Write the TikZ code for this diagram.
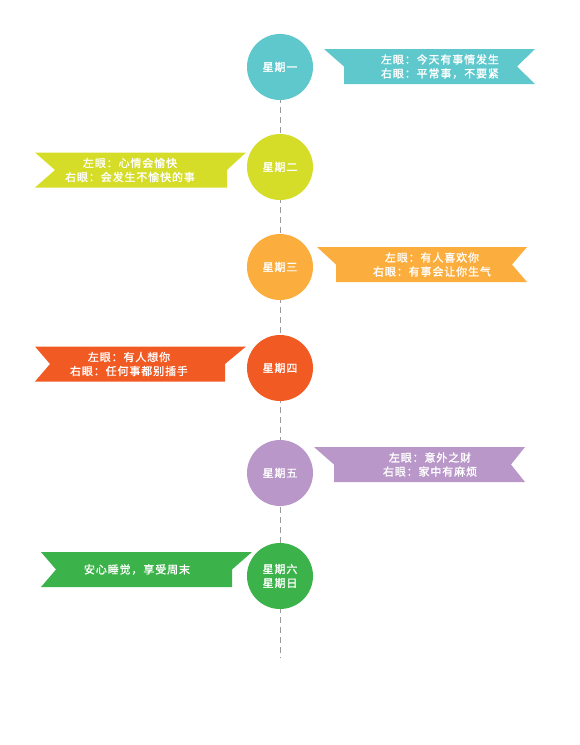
\documentclass[tikz,border=0pt]{standalone}
\usepackage{fontspec}
\setmainfont[LetterSpace=8, FakeBold=1.2]{Noto Sans CJK SC}
\usepackage{tikz}
\usetikzlibrary{backgrounds}

\definecolor{monc}{HTML}{5FC8CC}
\definecolor{tuec}{HTML}{D5DD28}
\definecolor{wedc}{HTML}{FBAE3E}
\definecolor{thuc}{HTML}{F25A23}
\definecolor{fric}{HTML}{B997C9}
\definecolor{satc}{HTML}{3BB24A}
\definecolor{spinec}{HTML}{9A9A9A}

\begin{document}
\begin{tikzpicture}[
    x=1pt, y=-1pt,
    day/.style={
        circle, minimum size=66pt, inner sep=0pt, text=white,
        font=\fontsize{11}{14}\selectfont, align=center
    },
    note/.style={
        text=white, font=\fontsize{11}{14}\selectfont, align=center, inner sep=0pt
    },
    spine/.style={spinec, thick, dash pattern=on 6pt off 4pt},
]
\useasboundingbox (0,0) rectangle (579,745);

% Monday (ribbon on the right)
\node[day, fill=monc] (mon) at (280,67) {星期一};
\fill[monc] (324,49) -- (535,49) -- (517,66.5) -- (535,84) -- (344,84) -- (344,66.5) -- cycle;
\node[note] (monnote) at (440,66.5) {左眼：今天有事情发生\\右眼：平常事，不要紧};

% Tuesday (ribbon on the left)
\node[day, fill=tuec] (tue) at (280,167) {星期二};
\fill[tuec] (246,152.5) -- (35,152.5) -- (55,170) -- (35,187.5) -- (227,187.5) -- (227,170) -- cycle;
\node[note] (tuenote) at (130,170) {左眼：心情会愉快\\右眼：会发生不愉快的事};

% Wednesday (ribbon on the right)
\node[day, fill=wedc] (wed) at (280,267) {星期三};
\fill[wedc] (317,247) -- (527,247) -- (512,264.5) -- (527,282) -- (336,282) -- (336,264.5) -- cycle;
\node[note] (wednote) at (432,264.5) {左眼：有人喜欢你\\右眼：有事会让你生气};

% Thursday (ribbon on the left)
\node[day, fill=thuc] (thu) at (280,368) {星期四};
\fill[thuc] (246,346.5) -- (35,346.5) -- (50,364) -- (35,381.5) -- (225,381.5) -- (225,364) -- cycle;
\node[note] (thunote) at (129,364) {左眼：有人想你\\右眼：任何事都别插手};

% Friday (ribbon on the right)
\node[day, fill=fric] (fri) at (280,473) {星期五};
\fill[fric] (314,447) -- (525,447) -- (511,464.5) -- (525,482) -- (334,482) -- (334,464.5) -- cycle;
\node[note] (frinote) at (430,464.5) {左眼：意外之财\\右眼：家中有麻烦};

% Saturday and Sunday (ribbon on the left)
\node[day, fill=satc] (satsun) at (280,576) {星期六\\星期日};
\fill[satc] (252,552) -- (41,552) -- (56,569.5) -- (41,587) -- (232,587) -- (232,569.5) -- cycle;
\node[note] (satnote) at (137,569.5) {安心睡觉，享受周末};

% dashed time line behind the circles
\coordinate (tail) at (280,658);
\begin{scope}[on background layer]
\draw[spine] (mon.center) -- (tail);
\end{scope}

\end{tikzpicture}
\end{document}
